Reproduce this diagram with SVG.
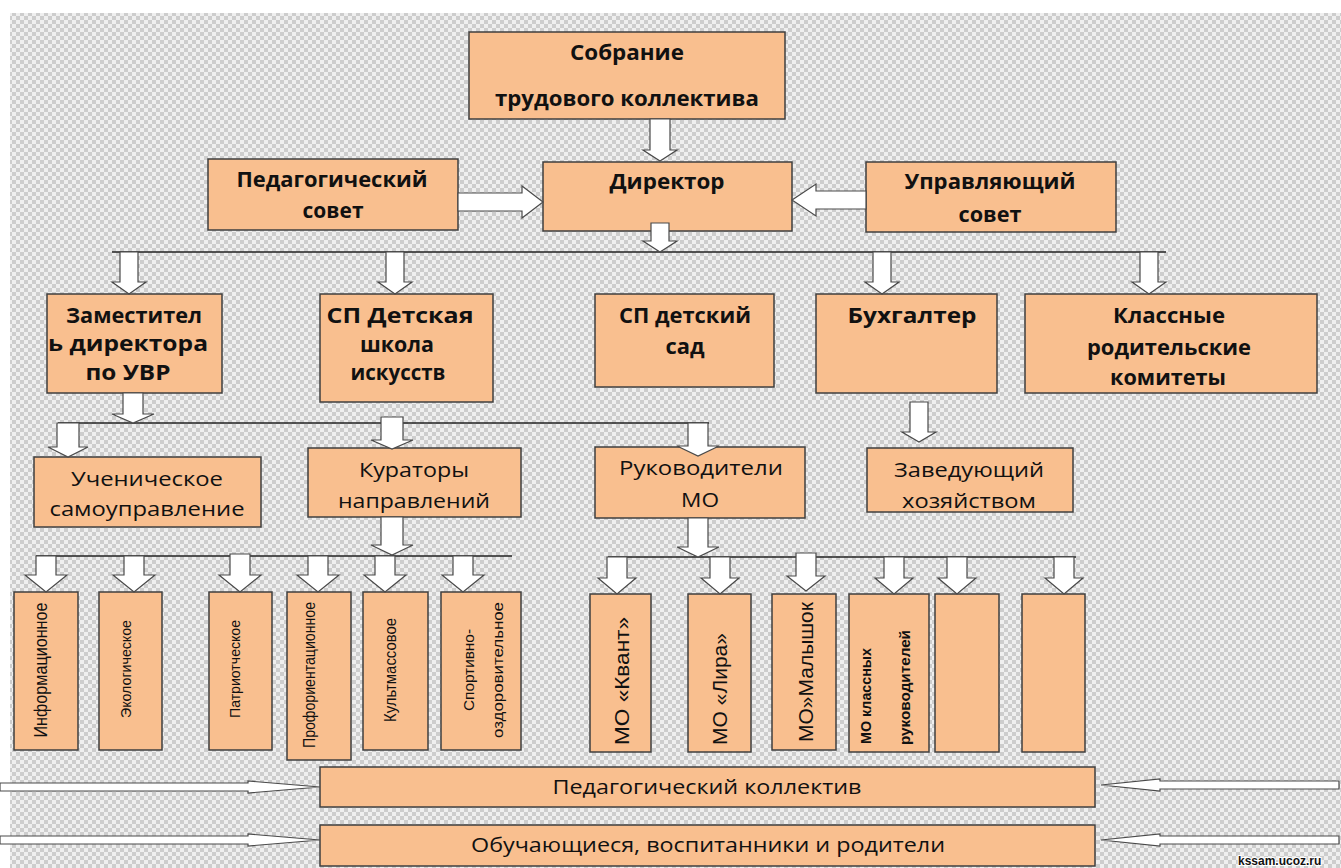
<svg xmlns="http://www.w3.org/2000/svg" width="1341" height="868" viewBox="0 0 1341 868">
<defs>
<pattern id="chk" x="0" y="0" width="8" height="8" patternUnits="userSpaceOnUse">
<rect width="8" height="8" fill="#efefef"/>
<rect width="4" height="4" fill="#cdcdcd"/>
<rect x="4" y="4" width="4" height="4" fill="#cdcdcd"/>
</pattern>
<style>
.box{fill:#f9bf8f;stroke:#3f3f3f;stroke-width:1.5}
.arr{fill:#fff;stroke:#4a4a4a;stroke-width:1.2}
.ln{stroke:#222;stroke-width:1.3;fill:none}
.b{font-family:"Open Sans","Liberation Sans",sans-serif;font-weight:700;font-size:21px;fill:#111;text-anchor:middle}
.r{font-family:"Open Sans","Liberation Sans",sans-serif;font-size:20px;fill:#111;text-anchor:middle}
.v{font-family:"Liberation Sans",Arial,sans-serif;fill:#111;dominant-baseline:central}
.vb{font-family:"Liberation Sans",Arial,sans-serif;font-weight:700;font-size:14px;fill:#111;dominant-baseline:central}
.wm{font-family:"Liberation Sans",Arial,sans-serif;font-weight:700;font-size:12px;fill:#111;stroke:#fff;stroke-width:2;paint-order:stroke}
</style>
</defs>
<rect width="1341" height="868" fill="#fff"/>
<rect x="10" y="13" width="1331" height="855" fill="url(#chk)"/>

<g id="sobranie"><rect class="box" x="469" y="32" width="316" height="87"/>
<text class="b" x="627" y="60" textLength="114" lengthAdjust="spacingAndGlyphs">Собрание</text>
<text class="b" x="627" y="106" textLength="264" lengthAdjust="spacingAndGlyphs">трудового коллектива</text></g>

<g id="direktor"><rect class="box" x="543" y="162" width="249" height="69"/>
<text class="b" x="667" y="189" textLength="115" lengthAdjust="spacingAndGlyphs">Директор</text></g>

<g id="pedsovet"><rect class="box" x="208" y="159" width="250" height="71"/>
<text class="b" x="332" y="187" textLength="191" lengthAdjust="spacingAndGlyphs">Педагогический</text>
<text class="b" x="333" y="218" textLength="61" lengthAdjust="spacingAndGlyphs">совет</text></g>

<g id="upravl"><rect class="box" x="866" y="162" width="250" height="70"/>
<text class="b" x="990" y="189" textLength="171" lengthAdjust="spacingAndGlyphs">Управляющий</text>
<text class="b" x="990" y="222" textLength="63" lengthAdjust="spacingAndGlyphs">совет</text></g>

<g id="zam"><rect class="box" x="47" y="294" width="175" height="99"/>
<text class="b" x="134" y="323" textLength="136" lengthAdjust="spacingAndGlyphs">Заместител</text>
<text class="b" x="128" y="351" textLength="160" lengthAdjust="spacingAndGlyphs">ь директора</text>
<text class="b" x="128" y="380" textLength="85" lengthAdjust="spacingAndGlyphs">по УВР</text></g>

<g id="dshi"><rect class="box" x="320" y="294" width="173" height="108"/>
<text class="b" x="400" y="323" textLength="147" lengthAdjust="spacingAndGlyphs">СП Детская</text>
<text class="b" x="397" y="352" textLength="74" lengthAdjust="spacingAndGlyphs">школа</text>
<text class="b" x="398" y="380" textLength="95" lengthAdjust="spacingAndGlyphs">искусств</text></g>

<g id="dsad"><rect class="box" x="595" y="294" width="179" height="93"/>
<text class="b" x="685" y="323" textLength="132" lengthAdjust="spacingAndGlyphs">СП детский</text>
<text class="b" x="685" y="354" textLength="39" lengthAdjust="spacingAndGlyphs">сад</text></g>

<g id="buh"><rect class="box" x="816" y="294" width="181" height="99"/>
<text class="b" x="912" y="323" textLength="129" lengthAdjust="spacingAndGlyphs">Бухгалтер</text></g>

<g id="klass"><rect class="box" x="1025" y="294" width="292" height="99"/>
<text class="b" x="1169" y="323" textLength="112" lengthAdjust="spacingAndGlyphs">Классные</text>
<text class="b" x="1169" y="355" textLength="164" lengthAdjust="spacingAndGlyphs">родительские</text>
<text class="b" x="1168" y="385" textLength="116" lengthAdjust="spacingAndGlyphs">комитеты</text></g>

<g id="uchen"><rect class="box" x="34" y="457" width="227" height="70"/>
<text class="r" x="147" y="486" textLength="152" lengthAdjust="spacingAndGlyphs">Ученическое</text>
<text class="r" x="147" y="516" textLength="195" lengthAdjust="spacingAndGlyphs">самоуправление</text></g>

<g id="kurator"><rect class="box" x="308" y="448" width="213" height="69"/>
<text class="r" x="414" y="477" textLength="110" lengthAdjust="spacingAndGlyphs">Кураторы</text>
<text class="r" x="414" y="508" textLength="152" lengthAdjust="spacingAndGlyphs">направлений</text></g>

<g id="rukov"><rect class="box" x="595" y="447" width="210" height="71"/>
<text class="r" x="701" y="475" textLength="164" lengthAdjust="spacingAndGlyphs">Руководители</text>
<text class="r" x="700" y="507" textLength="38" lengthAdjust="spacingAndGlyphs">МО</text></g>

<g id="zaved"><rect class="box" x="867" y="448" width="206" height="64"/>
<text class="r" x="969" y="477" textLength="150" lengthAdjust="spacingAndGlyphs">Заведующий</text>
<text class="r" x="969" y="508" textLength="134" lengthAdjust="spacingAndGlyphs">хозяйством</text></g>

<g id="info"><rect class="box" x="14" y="592" width="64" height="158"/>
<text class="v" transform="translate(40,670) rotate(-90)" text-anchor="middle" font-size="19" textLength="135" lengthAdjust="spacingAndGlyphs">Информационное</text></g>
<g id="eko"><rect class="box" x="99" y="592" width="63" height="158"/>
<text class="v" transform="translate(125,669) rotate(-90)" text-anchor="middle" font-size="15" textLength="98" lengthAdjust="spacingAndGlyphs">Экологическое</text></g>
<g id="patr"><rect class="box" x="209" y="592" width="63" height="158"/>
<text class="v" transform="translate(234,669) rotate(-90)" text-anchor="middle" font-size="15" textLength="98" lengthAdjust="spacingAndGlyphs">Патриотческое</text></g>
<g id="prof"><rect class="box" x="287" y="592" width="64" height="168"/>
<text class="v" transform="translate(309,675) rotate(-90)" text-anchor="middle" font-size="16" textLength="146" lengthAdjust="spacingAndGlyphs">Профориентационное</text></g>
<g id="kult"><rect class="box" x="363" y="592" width="65" height="158"/>
<text class="v" transform="translate(390,670) rotate(-90)" text-anchor="middle" font-size="16" textLength="104" lengthAdjust="spacingAndGlyphs">Культмассовое</text></g>
<g id="sport"><rect class="box" x="441" y="592" width="80" height="158"/>
<text class="v" transform="translate(468,670) rotate(-90)" text-anchor="middle" font-size="15" textLength="82" lengthAdjust="spacingAndGlyphs">Спортивно-</text>
<text class="v" transform="translate(497,670) rotate(-90)" text-anchor="middle" font-size="15" textLength="136" lengthAdjust="spacingAndGlyphs">оздоровительное</text></g>

<g id="kvant"><rect class="box" x="590" y="594" width="61" height="158"/>
<text class="v" transform="translate(621,745) rotate(-90)" font-size="21" textLength="128" lengthAdjust="spacingAndGlyphs">МО «Квант»</text></g>
<g id="lira"><rect class="box" x="688" y="594" width="63" height="158"/>
<text class="v" transform="translate(719,745) rotate(-90)" font-size="21" textLength="112" lengthAdjust="spacingAndGlyphs">МО «Лира»</text></g>
<g id="malysh"><rect class="box" x="772" y="594" width="64" height="156"/>
<text class="v" transform="translate(805,742) rotate(-90)" font-size="21" textLength="140" lengthAdjust="spacingAndGlyphs">МО»Малышок</text></g>
<g id="mokl"><rect class="box" x="849" y="594" width="80" height="158"/>
<text class="vb" transform="translate(866,744) rotate(-90)" textLength="96" lengthAdjust="spacingAndGlyphs">МО классных</text>
<text class="vb" transform="translate(905,745) rotate(-90)" textLength="115" lengthAdjust="spacingAndGlyphs">руководителей</text></g>
<g id="blank1"><rect class="box" x="935" y="594" width="64" height="158"/></g>
<g id="blank2"><rect class="box" x="1022" y="594" width="63" height="158"/></g>

<g id="pedkol"><rect class="box" x="320" y="767" width="775" height="40"/>
<text class="r" x="707" y="794" textLength="309" lengthAdjust="spacingAndGlyphs">Педагогический коллектив</text></g>
<g id="obuch"><rect class="box" x="320" y="825" width="775" height="41"/>
<text class="r" x="708" y="852" textLength="474" lengthAdjust="spacingAndGlyphs">Обучающиеся, воспитанники и родители</text></g>

<g id="connectors">
<path class="ln" d="M112 252 H1166"/>
<path class="ln" d="M58 423 H709"/>
<path class="ln" d="M36 556 H512"/>
<path class="ln" d="M608 557 H1076"/>
<path class="arr" d="M650 119 H670 V150 H677 L660 161 L643 150 H650 Z"/>
<path class="arr" d="M458 193 H522 V186 L543 202 L522 218 V211 H458 Z"/>
<path class="arr" d="M866 191 H816 V184 L792 200 L816 216 V209 H866 Z"/>
<path class="arr" d="M651 223 H669 V241 H677 L660 252 L643 241 H651 Z"/>
<path class="arr" d="M120 252 H138 V282 H146 L129 294 L112 282 H120 Z"/>
<path class="arr" d="M386 252 H404 V282 H412 L395 294 L378 282 H386 Z"/>
<path class="arr" d="M873 252 H891 V282 H899 L882 294 L865 282 H873 Z"/>
<path class="arr" d="M1140 252 H1158 V282 H1166 L1149 294 L1132 282 H1140 Z"/>
<path class="arr" d="M123 393 H143 V414 H154 L133 423 L112 414 H123 Z"/>
<path class="arr" d="M57 423 H79 V447 H88 L68 457 L48 447 H57 Z"/>
<path class="arr" d="M381 417 H403 V440 H413 L392 449 L371 440 H381 Z"/>
<path class="arr" d="M688 423 H708 V446 H719 L698 456 L677 446 H688 Z"/>
<path class="arr" d="M910 402 H928 V432 H936 L919 442 L902 432 H910 Z"/>
<path class="arr" d="M381 517 H403 V545 H413 L392 555 L371 545 H381 Z"/>
<path class="arr" d="M688 518 H708 V547 H719 L698 557 L677 547 H688 Z"/>
<path class="arr" d="M36 556 H56 V575 H67 L46 592 L25 575 H36 Z"/>
<path class="arr" d="M124 556 H144 V575 H155 L134 592 L113 575 H124 Z"/>
<path class="arr" d="M230 554 H250 V575 H261 L240 592 L219 575 H230 Z"/>
<path class="arr" d="M308 556 H328 V575 H339 L318 592 L297 575 H308 Z"/>
<path class="arr" d="M375 556 H395 V575 H406 L385 592 L364 575 H375 Z"/>
<path class="arr" d="M453 556 H473 V575 H484 L463 592 L442 575 H453 Z"/>
<path class="arr" d="M607 557 H627 V578 H636 L617 594 L598 578 H607 Z"/>
<path class="arr" d="M710 557 H730 V578 H739 L720 594 L701 578 H710 Z"/>
<path class="arr" d="M796 553 H816 V576 H825 L806 591 L787 576 H796 Z"/>
<path class="arr" d="M884 557 H904 V578 H913 L894 594 L875 578 H884 Z"/>
<path class="arr" d="M947 557 H967 V578 H976 L957 594 L938 578 H947 Z"/>
<path class="arr" d="M1054 557 H1074 V578 H1083 L1064 594 L1045 578 H1054 Z"/>
<path class="arr" d="M0 783 H248 V781 L320 787 L248 793 V791 H0 Z"/>
<path class="arr" d="M0 836 H248 V834 L320 840 L248 846 V844 H0 Z"/>
<path class="arr" d="M1339 781 H1160 V779 L1101 785 L1160 791 V789 H1339 Z"/>
<path class="arr" d="M1339 836 H1160 V834 L1101 840 L1160 846 V844 H1339 Z"/>
</g>
<text class="wm" x="1238" y="865">kssam.ucoz.ru</text>
</svg>
